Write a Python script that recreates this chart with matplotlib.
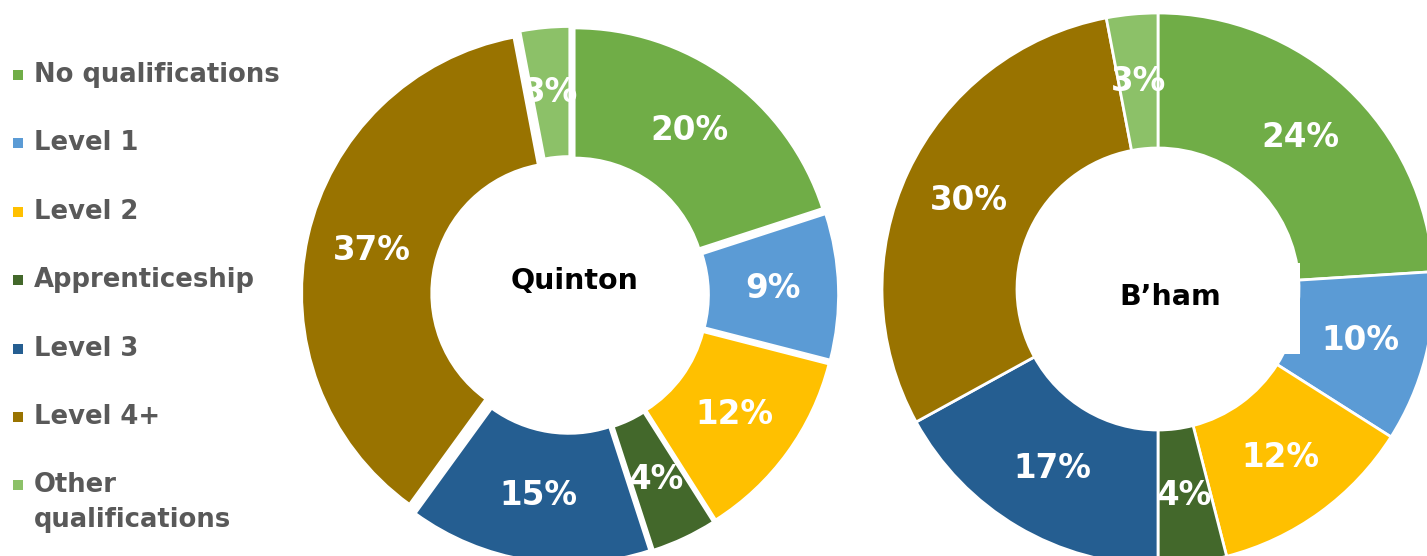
import textwrap
import matplotlib
matplotlib.use("Agg")
import matplotlib.pyplot as plt
from matplotlib.patches import Rectangle

# ---- data ----
categories = ["No qualifications", "Level 1", "Level 2", "Apprenticeship",
              "Level 3", "Level 4+", "Other qualifications"]
quinton = [20, 9, 12, 4, 15, 37, 3]
bham = [24, 10, 12, 4, 17, 30, 3]
area_names = ["Quinton", "B\u2019ham"]
colors = ["#70AD47", "#5B9BD5", "#FFC000", "#43682B", "#255E91", "#997300", "#8CC168"]

W, H = 1427, 556
fig = plt.figure(figsize=(W / 100, H / 100), dpi=100)
ax = fig.add_axes([0, 0, 1, 1])

def pct(p):
    return f"{round(p)}%"

# Quinton (exploded donut)
qc = (570, H - 295)
qR, qr, qd = 260, 131, 8
ax.pie(quinton, colors=colors, startangle=90, counterclock=False,
       center=qc, radius=qR, explode=[qd] * len(quinton),
       wedgeprops=dict(width=qR - qr, edgecolor="white", linewidth=1.2),
       autopct=pct, pctdistance=(qR + qr) / 2 / qR,
       textprops=dict(color="white", fontsize=23.5, fontweight="bold"))

# B'ham donut
bc = (1158, H - 289)
bR, br = 276, 141
ax.pie(bham, colors=colors, startangle=90, counterclock=False,
       center=bc, radius=bR,
       wedgeprops=dict(width=bR - br, edgecolor="white", linewidth=2),
       autopct=pct, pctdistance=(bR + br) / 2 / bR,
       textprops=dict(color="white", fontsize=23.5, fontweight="bold"))

# white label box overlapping B'ham ring
ax.add_patch(Rectangle((1040, H - 354), 1300 - 1040, 354 - 263,
                       facecolor="white", edgecolor="none", zorder=3))

ax.text(575, H - 281, area_names[0], ha="center", va="center",
        fontsize=20.5, fontweight="bold", color="black", zorder=4)
ax.text(1170, H - 297, area_names[1], ha="center", va="center",
        fontsize=20.5, fontweight="bold", color="black", zorder=4)

# legend
y0, step, line_h = 75, 68.4, 35
for i, (name, col) in enumerate(zip(categories, colors)):
    y = y0 + i * step
    ax.add_patch(Rectangle((13, H - y - 5), 10, 10, facecolor=col,
                           edgecolor="none", zorder=4))
    for k, line in enumerate(textwrap.wrap(name, 17)):
        ax.text(34, H - (y + k * line_h), line, ha="left", va="center",
                fontsize=18.6, fontweight="bold", color="#595959", zorder=4)

ax.set_xlim(0, W)
ax.set_ylim(0, H)
ax.set_aspect("equal")
ax.axis("off")
fig.savefig("out.png", dpi=100, facecolor="white")
